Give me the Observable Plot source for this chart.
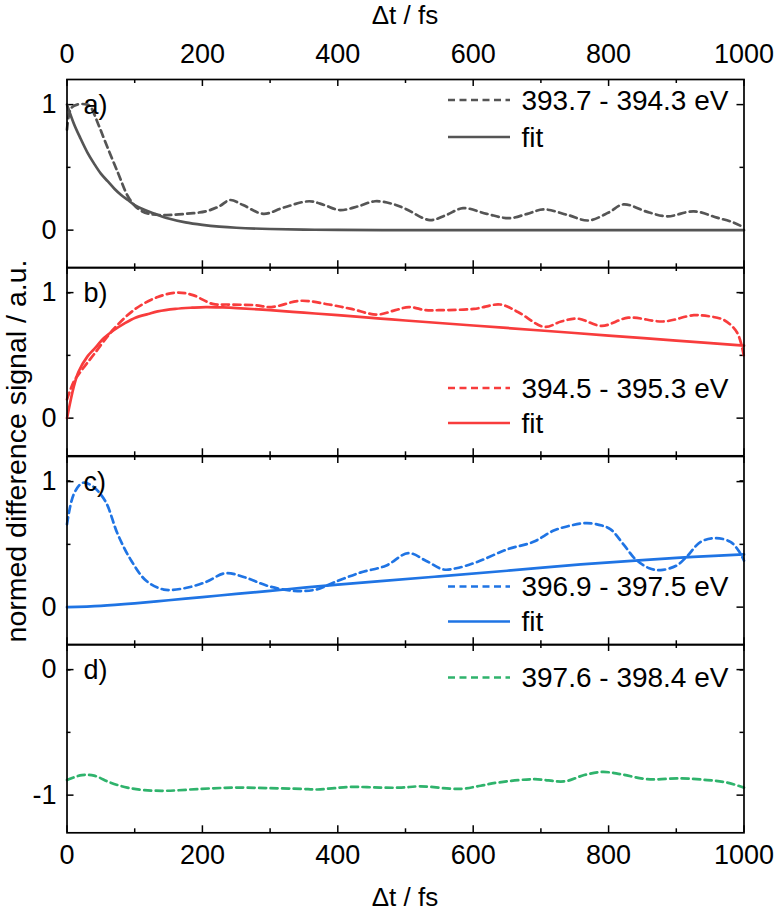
<!DOCTYPE html>
<html><head><meta charset="utf-8">
<script src="https://cdn.jsdelivr.net/npm/d3@7"></script>
<script src="https://cdn.jsdelivr.net/npm/@observablehq/plot@0.6"></script>
<style>
body{margin:0;background:#fff;}
#chart{position:relative;width:776px;height:913px;font-family:"Liberation Sans",Arial,sans-serif;color:#000;overflow:hidden;}
#chart svg{position:absolute;left:0;overflow:visible;}
.ttl{position:absolute;font-size:26px;line-height:26px;white-space:nowrap;}
</style></head><body><div id="chart"></div>
<script>
// ---- x axis ----
const xMajor = [0, 200, 400, 600, 800, 1000];
const xMinor = [100, 300, 500, 700, 900];
const xTitle = "\u0394t / fs";
const yTitle = "normed difference signal / a.u.";

// ---- panel a (393.7 - 394.3 eV) ----
const aDataX = [0, 6, 15, 30, 35, 45, 56, 75, 91, 105, 121, 147, 175, 205, 225, 241, 260, 290, 320, 358, 380, 403, 430, 455, 480, 500, 536, 560, 585, 620, 653, 680, 704, 740, 770, 800, 822, 860, 887, 926, 960, 985, 1000];
const aDataY = [0.80, 0.97, 1.0, 1.0, 0.98, 0.86, 0.71, 0.46, 0.26, 0.17, 0.13, 0.12, 0.13, 0.15, 0.19, 0.24, 0.20, 0.13, 0.18, 0.23, 0.20, 0.16, 0.19, 0.23, 0.21, 0.17, 0.08, 0.12, 0.175, 0.13, 0.095, 0.13, 0.165, 0.12, 0.077, 0.14, 0.205, 0.14, 0.11, 0.15, 0.10, 0.06, 0.02];
const aFitX = [0, 10, 20, 30, 40, 50, 60, 70, 80, 90, 100, 115, 130, 150, 175, 200, 225, 250, 300, 350, 400, 500, 600, 800, 1000];
const aFitY = [1.0, 0.85, 0.73, 0.62, 0.53, 0.45, 0.39, 0.33, 0.28, 0.24, 0.20, 0.16, 0.13, 0.093, 0.062, 0.042, 0.028, 0.019, 0.009, 0.004, 0.002, 0.0, 0.0, 0.0, 0.0];

// ---- panel b (394.5 - 395.3 eV) ----
const bDataX = [0, 10, 20, 40, 69, 101, 134, 163, 186, 215, 238, 277, 302, 345, 387, 420, 458, 485, 505, 530, 549, 601, 640, 666, 705, 730, 754, 790, 829, 881, 926, 950, 971, 990, 1000];
const bDataY = [0.15, 0.29, 0.37, 0.51, 0.71, 0.87, 0.965, 1.0, 0.98, 0.91, 0.905, 0.90, 0.885, 0.935, 0.905, 0.87, 0.825, 0.86, 0.885, 0.86, 0.86, 0.87, 0.905, 0.846, 0.727, 0.77, 0.793, 0.735, 0.80, 0.77, 0.82, 0.81, 0.78, 0.68, 0.49];
const bFitX = [0, 10, 17, 30, 40, 55, 69, 85, 101, 120, 134, 160, 185, 205, 230, 251, 300, 350, 400, 463, 500, 600, 700, 800, 900, 1000];
const bFitY = [0.0, 0.25, 0.37, 0.49, 0.55, 0.64, 0.70, 0.755, 0.80, 0.83, 0.85, 0.87, 0.88, 0.885, 0.882, 0.877, 0.86, 0.84, 0.82, 0.793, 0.778, 0.738, 0.698, 0.658, 0.618, 0.578];

// ---- panel c (396.9 - 397.5 eV) ----
const cDataX = [0, 10, 23, 36, 56, 75, 95, 117, 143, 173, 205, 234, 264, 296, 335, 368, 394, 433, 471, 504, 530, 556, 575, 606, 650, 689, 719, 744, 768, 790, 803, 822, 840, 860, 877, 900, 915, 936, 958, 980, 992, 1000];
const cDataY = [0.66, 0.90, 0.99, 0.97, 0.85, 0.58, 0.37, 0.21, 0.14, 0.15, 0.20, 0.27, 0.235, 0.17, 0.13, 0.14, 0.196, 0.275, 0.33, 0.43, 0.37, 0.30, 0.31, 0.36, 0.46, 0.52, 0.61, 0.65, 0.67, 0.65, 0.62, 0.50, 0.38, 0.31, 0.295, 0.33, 0.40, 0.52, 0.55, 0.52, 0.45, 0.37];
const cFitX = [0, 50, 100, 150, 200, 250, 300, 350, 400, 463, 550, 650, 759, 850, 925, 1000];
const cFitY = [0.0, 0.01, 0.03, 0.055, 0.08, 0.105, 0.13, 0.155, 0.18, 0.207, 0.245, 0.29, 0.34, 0.375, 0.40, 0.42];

// ---- panel d (397.6 - 398.4 eV) ----
const dDataX = [0, 22, 40, 64, 89, 114, 148, 198, 247, 296, 346, 370, 395, 420, 463, 494, 522, 581, 611, 636, 690, 735, 764, 791, 818, 857, 906, 946, 975, 1000];
const dDataY = [-0.88, -0.84, -0.845, -0.90, -0.94, -0.96, -0.965, -0.95, -0.94, -0.944, -0.95, -0.955, -0.944, -0.934, -0.94, -0.94, -0.93, -0.95, -0.925, -0.90, -0.873, -0.89, -0.84, -0.815, -0.833, -0.873, -0.867, -0.88, -0.90, -0.94];

// ---- y ticks / labels ----
const yMajorPos = [0, 1];
const yMinorPos = [-0.5, 0.5];
const yMajorNeg = [-1, 0];
const yMinorNeg = [-0.5];
const panelLabels = ["a)", "b)", "c)", "d)"];
const seriesNames = ["393.7 - 394.3 eV", "394.5 - 395.3 eV", "396.9 - 397.5 eV", "397.6 - 398.4 eV"];
const fitName = "fit";

// ---- styling / layout ----
const colors = ["#555555", "#f83c3c", "#1f74e4", "#2fb36c"];
const W = 776, ML = 66.5, MR = 32.5, H = 188.3;
const PW = W - ML - MR;
const tops = [79, 79 + H, 79 + 2 * H, 79 + 3 * H];
const legendRows = [[21, 58], [121, 156], [130.5, 165.5], [33.5]];
const font = '"Liberation Sans", Arial, sans-serif';
const dash = "7,4.5";

const panels = [
  {dx: aDataX, dy: aDataY, fx: aFitX, fy: aFitY, dom: [-0.3, 1.2], maj: yMajorPos, min: yMinorPos},
  {dx: bDataX, dy: bDataY, fx: bFitX, fy: bFitY, dom: [-0.3, 1.2], maj: yMajorPos, min: yMinorPos},
  {dx: cDataX, dy: cDataY, fx: cFitX, fy: cFitY, dom: [-0.3, 1.2], maj: yMajorPos, min: yMinorPos},
  {dx: dDataX, dy: dDataY, fx: null, fy: null, dom: [-1.3, 0.2], maj: yMajorNeg, min: yMinorNeg}
];

const chart = document.getElementById("chart");

panels.forEach((p, i) => {
  const first = i === 0, last = i === panels.length - 1;
  const mt = first ? tops[0] : 0;
  const mb = last ? 913 - (tops[3] + H) : 0;
  const color = colors[i];
  const data = p.dx.map((x, k) => ({x, y: p.dy[k]}));
  const fit = p.fx ? p.fx.map((x, k) => ({x, y: p.fy[k]})) : [];
  const tk = {stroke: "black", strokeWidth: 1.5};
  const marks = [
    Plot.tickX(xMajor, {x: d => d, insetBottom: H - 7, ...tk}),
    Plot.tickX(xMajor, {x: d => d, insetTop: H - 7, ...tk}),
    Plot.tickX(xMinor, {x: d => d, insetBottom: H - 4, ...tk}),
    Plot.tickX(xMinor, {x: d => d, insetTop: H - 4, ...tk}),
    Plot.tickY(p.maj, {y: d => d, insetRight: PW - 7, ...tk}),
    Plot.tickY(p.maj, {y: d => d, insetLeft: PW - 7, ...tk}),
    Plot.tickY(p.min, {y: d => d, insetRight: PW - 4, ...tk}),
    Plot.tickY(p.min, {y: d => d, insetLeft: PW - 4, ...tk}),
    Plot.axisY(p.maj, {anchor: "left", tickSize: 0, tickPadding: 10.5, label: null, tickFormat: d => d < 0 ? "-" + Math.abs(d) : String(d)}),
    Plot.line(data, {x: "x", y: "y", stroke: color, strokeWidth: 2.7, strokeDasharray: dash, curve: "catmull-rom"}),
    p.fx ? Plot.line(fit, {x: "x", y: "y", stroke: color, strokeWidth: 2.7, curve: "catmull-rom"}) : null,
    Plot.frame({stroke: "black", strokeWidth: 1.7}),
    Plot.text([panelLabels[i]], {text: d => d, frameAnchor: "top-left", dx: 16.5, dy: 26, textAnchor: "start", lineAnchor: "middle", fill: "black"})
  ];
  if (first) marks.push(Plot.axisX(xMajor, {anchor: "top", tickSize: 0, tickPadding: 16, label: null, tickFormat: d => String(d)}));
  if (last) marks.push(Plot.axisX(xMajor, {anchor: "bottom", tickSize: 0, tickPadding: 12, label: null, tickFormat: d => String(d)}));
  const svg = Plot.plot({
    width: W, height: mt + H + mb,
    marginLeft: ML, marginRight: MR, marginTop: mt, marginBottom: mb,
    x: {domain: [0, 1000], axis: null},
    y: {domain: p.dom, axis: null},
    style: {fontFamily: font, fontSize: "27px", color: "black", background: "transparent", overflow: "visible"},
    marks: marks.filter(Boolean)
  });
  svg.style.top = (first ? 0 : tops[i]) + "px";
  // legend inside panel (top-right / bottom-right)
  const g = d3.select(svg).append("g").attr("text-anchor", "start");
  const oy = first ? tops[0] : 0;
  const rows = [{name: seriesNames[i], dash: dash}];
  if (p.fx) rows.push({name: fitName, dash: null});
  rows.forEach((r, k) => {
    const y = oy + legendRows[i][k];
    g.append("line").attr("x1", 448).attr("x2", 510).attr("y1", y).attr("y2", y)
      .attr("stroke", color).attr("stroke-width", 2.7).attr("stroke-dasharray", r.dash);
    g.append("text").attr("x", 521.5).attr("y", y).attr("dy", "0.35em").attr("text-anchor", "start")
      .attr("font-family", font).attr("font-size", 28).attr("fill", "black").text(r.name);
  });
  chart.appendChild(svg);
});

// titles
const t1 = document.createElement("div");
t1.className = "ttl"; t1.textContent = xTitle;
t1.style.left = (ML + PW / 2) + "px"; t1.style.top = "2px"; t1.style.transform = "translateX(-50%)";
chart.appendChild(t1);
const t2 = document.createElement("div");
t2.className = "ttl"; t2.textContent = xTitle;
t2.style.left = (ML + PW / 2) + "px"; t2.style.top = "884px"; t2.style.transform = "translateX(-50%)";
chart.appendChild(t2);
const t3 = document.createElement("div");
t3.className = "ttl"; t3.textContent = yTitle;
t3.style.fontSize = "28.5px"; t3.style.lineHeight = "28.5px";
t3.style.left = "16px"; t3.style.top = "451px";
t3.style.transform = "translate(-50%,-50%) rotate(-90deg)";
chart.appendChild(t3);
</script></body></html>
